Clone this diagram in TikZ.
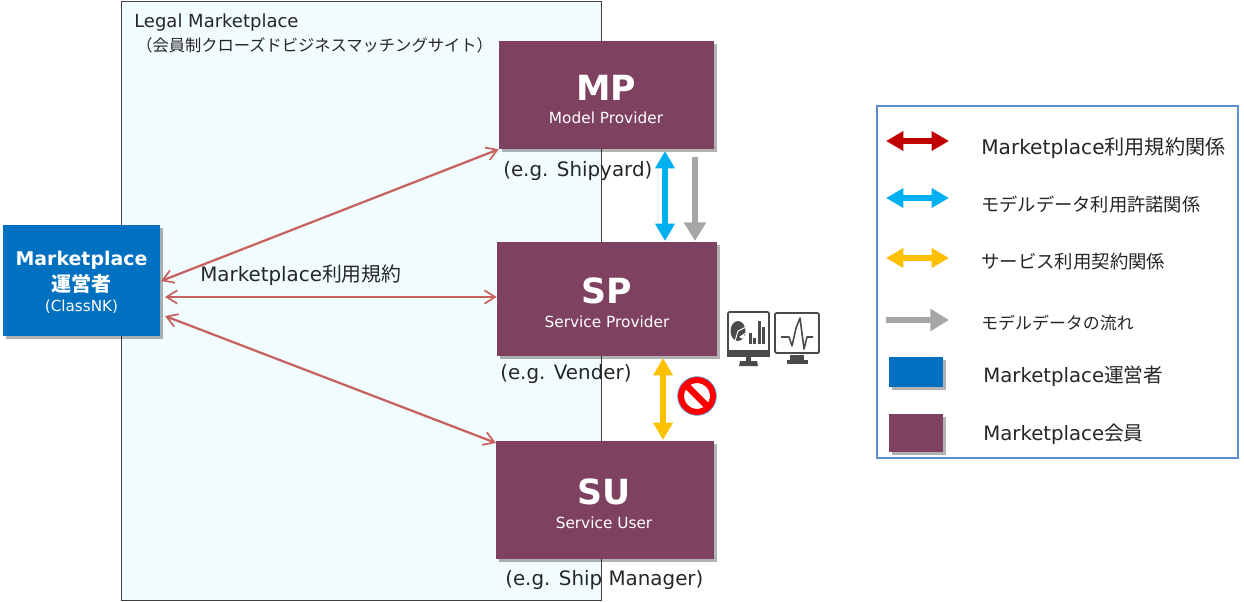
\documentclass[tikz,border=0pt]{standalone}
\usepackage{fontspec}
\setmainfont{DejaVu Sans}
\newfontfamily\jp{Noto Sans CJK JP}
\usetikzlibrary{arrows.meta,shadows,calc}
\definecolor{member}{HTML}{7F4160}
\definecolor{opblue}{HTML}{0070C0}
\definecolor{legalfill}{HTML}{F0FCFE}
\definecolor{relline}{HTML}{C8625F}
\definecolor{tred}{HTML}{C00000}
\definecolor{tcyan}{HTML}{00B0F0}
\definecolor{tyellow}{HTML}{FFC000}
\definecolor{tgray}{HTML}{A6A6A6}
\definecolor{legendline}{HTML}{5B8FD0}
\definecolor{icon}{HTML}{4A4A4A}
\definecolor{txt}{HTML}{262626}
\tikzset{
  x=0.75pt,y=-0.75pt,
  boxshadow/.style={drop shadow={shadow xshift=2.5pt,shadow yshift=-2.5pt,opacity=.3,fill=black}},
  memberbox/.style={fill=member,boxshadow,inner sep=0pt,text=white,align=center},
  opbox/.style={fill=opblue,boxshadow,inner sep=0pt,text=white,align=center},
  rel/.style={draw=relline,line width=1.7pt,{Straight Barb[length=8pt,width=10pt,line width=1.3pt]}-{Straight Barb[length=8pt,width=10pt,line width=1.3pt]}},
  fat/.style={line width=4.2pt,{Triangle[length=13pt,width=14pt]}-{Triangle[length=13pt,width=14pt]}},
  fatone/.style={line width=4.6pt,-{Triangle[length=14pt,width=16pt]}},
  body/.style={text=txt,font=\fontsize{13.5pt}{16pt}\selectfont,inner sep=0pt},
  egtext/.style={text=txt,font=\fontsize{14.9pt}{17pt}\selectfont,inner sep=0pt,anchor=west},
  legtext/.style={text=txt,inner sep=0pt,anchor=west},
  headtext/.style={text=white,font=\fontsize{26pt}{30pt}\selectfont\bfseries,inner sep=0pt},
  subtext/.style={text=white,font=\fontsize{11.5pt}{13pt}\selectfont,inner sep=0pt},
  icn/.style={draw=icon,line width=1.4pt,rounded corners=1pt},
  icnfill/.style={fill=icon,draw=none},
}
\begin{document}
\begin{tikzpicture}
\useasboundingbox (0,0) rectangle (1244,602);
% Legal Marketplace area
\node[draw=black!75,line width=.8pt,fill=legalfill,minimum width=479.5*0.75pt,minimum height=599*0.75pt,inner sep=0pt,anchor=north west] (legal) at (121,1) {};
\node[body,anchor=west] (legalt1) at (134,23) {Legal Marketplace};
\node[text=txt,font=\fontsize{12.2pt}{15pt}\selectfont,inner sep=0pt,anchor=west] (legalt2) at (136,45) {{\jp （会員制クローズドビジネスマッチングサイト）}};
% main boxes
\node[memberbox,minimum width=215*0.75pt,minimum height=108*0.75pt] (mp) at (606.5,95) {};
\node[memberbox,minimum width=220*0.75pt,minimum height=114*0.75pt] (sp) at (607,299) {};
\node[memberbox,minimum width=218*0.75pt,minimum height=118*0.75pt] (su) at (605,500) {};
\node[opbox,minimum width=157*0.75pt,minimum height=111*0.75pt] (mk) at (81.5,280.5) {};
% box labels
\node[headtext] (mpa) at (606,88) {MP};
\node[subtext] (mpb) at (606,118) {Model Provider};
\node[headtext] (spa) at (607,291) {SP};
\node[subtext] (spb) at (607,322) {Service Provider};
\node[headtext] (sua) at (604,492) {SU};
\node[subtext] (sub) at (604,523) {Service User};
\node[text=white,font=\fontsize{14.2pt}{16pt}\selectfont\bfseries,inner sep=0pt] (mka) at (81.5,260) {Marketplace};
\node[text=white,font=\fontsize{15pt}{17pt}\selectfont\bfseries\jp,inner sep=0pt] (mkb) at (81.5,284) {運営者};
\node[text=white,font=\fontsize{11.4pt}{13pt}\selectfont,inner sep=0pt] (mkc) at (81.5,307) {(ClassNK)};
% examples
\node[egtext] (eg1) at (503,171) {(e.g. Shipyard)};
\node[egtext] (eg2) at (500,374) {(e.g. Vender)};
\node[egtext] (eg3) at (505,580) {(e.g. Ship Manager)};
\node[text=txt,font=\fontsize{14.9pt}{17pt}\selectfont,inner sep=0pt,anchor=west] (rule) at (200,275) {Marketplace{\jp 利用規約}};
% relation connectors
\coordinate (mk1) at (161,281);
\coordinate (mk2) at (165,297);
\coordinate (mk3) at (165,316);
\coordinate (sp2) at (sp.west |- mk2);
\coordinate (su3) at (496,443);
\draw[rel] (mk1) -- (mp.south west);
\draw[rel] (mk2) -- (sp2);
\draw[rel] (mk3) -- (su3);
% thick connectors
\coordinate (cy1) at (665,151); \coordinate (cy2) at (665,241);
\coordinate (gr1) at (695,157); \coordinate (gr2) at (695,241);
\coordinate (ye1) at (663,358); \coordinate (ye2) at (663,440);
\draw[fat,tcyan,fill=tcyan] (cy1) -- (cy2);
\draw[fatone,tgray,fill=tgray] (gr1) -- (gr2);
\draw[fat,tyellow,fill=tyellow] (ye1) -- (ye2);
% prohibited sign
\fill[white] (697,396) circle[radius=14.5];
\draw[draw=red,line width=4.6pt] (697,396) circle[radius=16];
\draw[draw=red,line width=4.8pt] (686,385) -- (708,407);
\draw[draw=legendline,line width=.5pt] (697,396) circle[radius=19.4];
% monitor 1
\draw[icn] (728,312) rectangle (769,355);
\fill[icnfill] (727,350) rectangle (770,357);
\fill[icnfill] (746,357) rectangle (751,361);
\fill[icnfill] (740,361) -- (757,361) -- (758,366) -- (739,366) -- cycle;
\fill[icnfill] (738,331) ellipse[x radius=7.5,y radius=10];
\draw[white,line width=.7pt] (738,331) -- (746,327) (738,331) -- (735,341);
\fill[white] (739,337) -- (745,333) -- (743,339) -- cycle;
\fill[icnfill] (748.5,333) rectangle (751.5,344);
\fill[icnfill] (753,338) rectangle (756,344);
\fill[icnfill] (757.5,321) rectangle (760.5,344);
\fill[icnfill] (762,327) rectangle (765,344);
% monitor 2
\draw[icn] (775,313) rectangle (819,353);
\fill[icnfill] (790,355) rectangle (804,360);
\fill[icnfill] (787,360) rectangle (808,364);
\draw[icon,line width=1.2pt,line join=round] (781,337) -- (789,337) -- (792,346) -- (796,328) -- (800,318) -- (804,349) -- (807,337) -- (813,337);
% legend
\node[draw=legendline,line width=1.3pt,fill=white,minimum width=361*0.75pt,minimum height=352*0.75pt,inner sep=0pt,anchor=north west] (legend) at (876,105) {};
\coordinate (la1) at (886,141); \coordinate (lb1) at (949,141);
\coordinate (la2) at (886,198); \coordinate (lb2) at (949,198);
\coordinate (la3) at (886,258); \coordinate (lb3) at (949,258);
\coordinate (la4) at (886,320); \coordinate (lb4) at (949,320);
\draw[fat,tred,fill=tred] (la1) -- (lb1);
\draw[fat,tcyan,fill=tcyan] (la2) -- (lb2);
\draw[fat,tyellow,fill=tyellow] (la3) -- (lb3);
\draw[fatone,tgray,fill=tgray] (la4) -- (lb4);
\node[opbox,minimum width=54*0.75pt,minimum height=30*0.75pt] (lgop) at (916,372) {};
\node[memberbox,minimum width=54*0.75pt,minimum height=38*0.75pt] (lgmem) at (916,433) {};
\node[legtext,font=\fontsize{15.1pt}{17pt}\selectfont] (lt1) at (981,148) {Marketplace{\jp 利用規約関係}};
\node[legtext,font=\fontsize{13.7pt}{16pt}\selectfont] (lt2) at (981,204) {{\jp モデルデータ利用許諾関係}};
\node[legtext,font=\fontsize{13.8pt}{16pt}\selectfont] (lt3) at (981,262) {{\jp サービス利用契約関係}};
\node[legtext,font=\fontsize{12.7pt}{15pt}\selectfont] (lt4) at (981,323) {{\jp モデルデータの流れ}};
\node[legtext,font=\fontsize{14.8pt}{17pt}\selectfont] (lt5) at (983,376) {Marketplace{\jp 運営者}};
\node[legtext,font=\fontsize{14.8pt}{17pt}\selectfont] (lt6) at (983,434) {Marketplace{\jp 会員}};
\end{tikzpicture}
\end{document}
